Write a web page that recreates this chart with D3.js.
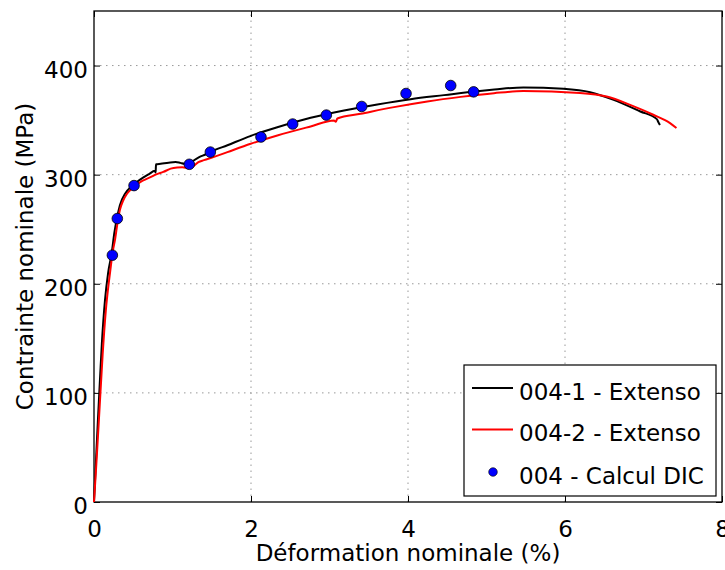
<!DOCTYPE html>
<html><head><meta charset="utf-8">
<script src="https://cdn.jsdelivr.net/npm/d3@7"></script>
<style>body{margin:0;background:#fff;} svg text{font-family:"DejaVu Sans",sans-serif;fill:#000;}</style>
</head><body><svg id="chart" width="725" height="570"></svg>
<script>
// ---- data ----
const xTicks = [0, 2, 4, 6, 8];
const yTicks = [0, 100, 200, 300, 400];
const xLabel = "Déformation nominale (%)";
const yLabel = "Contrainte nominale (MPa)";
const seriesNames = ["004-1 - Extenso", "004-2 - Extenso", "004 - Calcul DIC"];

const strain1 = [0, 0.02, 0.05, 0.08, 0.10, 0.14, 0.18, 0.225, 0.26, 0.289, 0.33, 0.40, 0.48, 0.55, 0.63, 0.70, 0.775, 0.785, 0.79, 0.85, 0.95, 1.04, 1.10, 1.15, 1.21, 1.27, 1.34, 1.42, 1.48, 1.70, 2.00, 2.335, 2.76, 3.185, 3.609, 4.034, 4.459, 4.883, 5.10, 5.47, 5.98, 6.32, 6.62, 6.96, 7.17, 7.19, 7.21];
const stress1 = [0, 30, 75, 118, 145, 185, 210, 228, 247, 259, 272, 283, 289.5, 293.5, 297.5, 300.5, 303.5, 302, 309.5, 310, 311, 311.6, 310.8, 310, 310, 313, 316, 318.5, 320.7, 327, 335.6, 343.5, 352.2, 358.9, 364.4, 369.2, 372.9, 376.5, 378, 380, 378.7, 375.6, 368.6, 357.9, 350.9, 348, 345.5];

const strain2 = [0, 0.03, 0.07, 0.11, 0.15, 0.19, 0.204, 0.24, 0.268, 0.30, 0.331, 0.37, 0.416, 0.48, 0.544, 0.62, 0.713, 0.80, 0.883, 0.977, 1.06, 1.125, 1.21, 1.27, 1.33, 1.401, 1.529, 1.699, 1.996, 2.335, 2.76, 3.057, 3.08, 3.10, 3.397, 3.822, 4.246, 4.671, 5.096, 5.469, 6.19, 6.53, 6.83, 7.125, 7.338, 7.42];
const stress2 = [0, 35, 85, 135, 175, 202, 210, 230, 240.5, 256, 268, 276, 282, 287, 291, 294.5, 297.5, 300.5, 302.5, 305.5, 306.5, 306.7, 306, 308, 311.5, 313.3, 316.3, 320.7, 328.3, 335.9, 344.2, 349.7, 348.5, 351.5, 355.8, 361.9, 367.1, 371.3, 374.7, 376.6, 374.8, 371.6, 364, 354.9, 347.3, 342.7];

const dicStrain = [0.234, 0.297, 0.51, 1.214, 1.482, 2.127, 2.531, 2.96, 3.41, 3.975, 4.544, 4.836];
const dicStress = [226.2, 259.8, 290, 309.5, 320.7, 334.5, 346.4, 354.6, 362.5, 374.4, 381.7, 375.9];

// ---- layout ----
const svg = d3.select("#chart");
const L = 94, R = 722, T = 11, B = 502;
const x = d3.scaleLinear().domain([0, 8]).range([L, R]);
const y = d3.scaleLinear().domain([0, 450]).range([B, T]);
const FS = 23;

// grid
const grid = svg.append("g");
xTicks.filter(v => v > 0 && v < 8).forEach(v => {
  grid.append("line").attr("x1", x(v)).attr("x2", x(v)).attr("y1", B).attr("y2", T)
    .attr("stroke", "#999").attr("stroke-width", 1).attr("stroke-dasharray", "1.5,4.5");
});
yTicks.filter(v => v > 0).forEach(v => {
  grid.append("line").attr("x1", L).attr("x2", R).attr("y1", y(v)).attr("y2", y(v))
    .attr("stroke", "#999").attr("stroke-width", 1).attr("stroke-dasharray", "1.5,4.5");
});

// axes (ticks inside, on all sides)
const tl = 6;
svg.append("g").attr("transform", `translate(0,${B})`)
  .call(d3.axisBottom(x).tickValues(xTicks).tickSizeInner(-tl).tickSizeOuter(0).tickFormat(d3.format("d")))
  .call(g => { g.select(".domain").remove(); g.selectAll("line").attr("stroke", "#000");
    g.selectAll("text").attr("font-size", FS).attr("font-family", "DejaVu Sans").attr("dy", "0.71em").attr("y", 19); });
svg.append("g").attr("transform", `translate(0,${T})`)
  .call(d3.axisTop(x).tickValues(xTicks).tickSizeInner(-tl).tickSizeOuter(0).tickFormat(""))
  .call(g => { g.select(".domain").remove(); g.selectAll("line").attr("stroke", "#000"); });
svg.append("g").attr("transform", `translate(${L},0)`)
  .call(d3.axisLeft(y).tickValues(yTicks).tickSizeInner(-tl).tickSizeOuter(0).tickFormat(d3.format("d")))
  .call(g => { g.select(".domain").remove(); g.selectAll("line").attr("stroke", "#000");
    g.selectAll("text").attr("font-size", FS).attr("font-family", "DejaVu Sans").attr("x", -6).attr("dy", "0.5em"); });
svg.append("g").attr("transform", `translate(${R},0)`)
  .call(d3.axisRight(y).tickValues(yTicks).tickSizeInner(-tl).tickSizeOuter(0).tickFormat(""))
  .call(g => { g.select(".domain").remove(); g.selectAll("line").attr("stroke", "#000"); });

// frame
svg.append("rect").attr("x", L).attr("y", T).attr("width", R - L).attr("height", B - T)
  .attr("fill", "none").attr("stroke", "#000").attr("stroke-width", 1.3);

// curves
const line = d3.line().x(d => x(d[0])).y(d => y(d[1])).curve(d3.curveMonotoneX);
svg.append("path").datum(d3.zip(strain1, stress1)).attr("d", line)
  .attr("fill", "none").attr("stroke", "#000").attr("stroke-width", 2);
svg.append("path").datum(d3.zip(strain2, stress2)).attr("d", line)
  .attr("fill", "none").attr("stroke", "#ff0000").attr("stroke-width", 2);
svg.append("g").selectAll("circle").data(d3.zip(dicStrain, dicStress)).join("circle")
  .attr("cx", d => x(d[0])).attr("cy", d => y(d[1])).attr("r", 5.3)
  .attr("fill", "#0000ff").attr("stroke", "#000").attr("stroke-width", 0.8);

// axis titles
svg.append("text").attr("x", (L + R) / 2).attr("y", 561).attr("text-anchor", "middle")
  .attr("font-size", FS).text(xLabel);
svg.append("text").attr("transform", `translate(33,${(T + B) / 2}) rotate(-90)`).attr("text-anchor", "middle")
  .attr("font-size", FS).text(yLabel);

// legend
const lg = svg.append("g");
lg.append("rect").attr("x", 464).attr("y", 365).attr("width", 252).attr("height", 131)
  .attr("fill", "#fff").attr("stroke", "#000").attr("stroke-width", 1.2);
const rowsY = [388, 429.5, 472];
const legColors = ["#000", "#ff0000"];
[0, 1].forEach(i => {
  lg.append("line").attr("x1", 472).attr("x2", 513).attr("y1", rowsY[i]).attr("y2", rowsY[i])
    .attr("stroke", legColors[i]).attr("stroke-width", 2);
});
lg.append("circle").attr("cx", 493).attr("cy", rowsY[2]).attr("r", 4.3)
  .attr("fill", "#0000ff").attr("stroke", "#000").attr("stroke-width", 0.6);
seriesNames.forEach((s, i) => {
  lg.append("text").attr("x", 519).attr("y", rowsY[i] + 11.5).attr("font-size", FS).text(s);
});
</script></body></html>
